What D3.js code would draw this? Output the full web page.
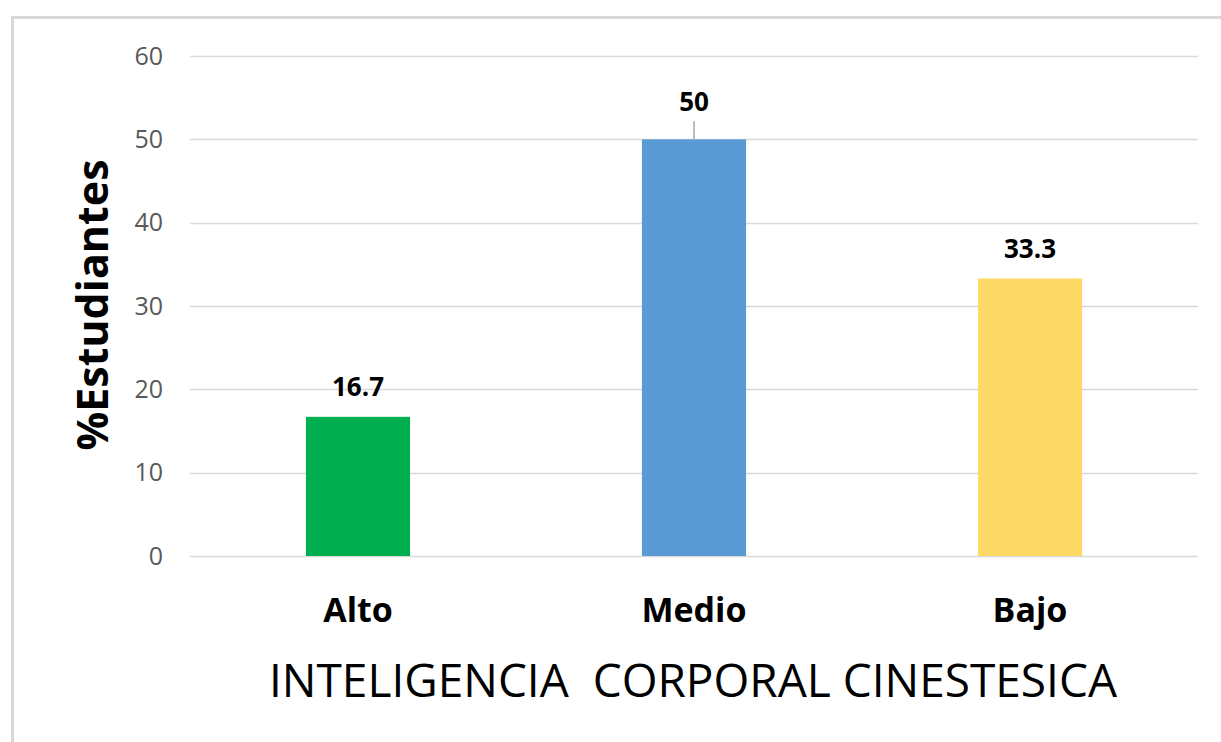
<!DOCTYPE html>
<html>
<head>
<meta charset="utf-8">
<script src="https://cdn.jsdelivr.net/npm/d3@7"></script>
<style>
  body { margin: 0; background: #fff; }
  text { font-family: "Open Sans", "Noto Sans", sans-serif; }
</style>
</head>
<body>
<div id="chart"></div>
<script>
// DATA--------------------
var categories = ["Alto", "Medio", "Bajo"];
var values = [16.7, 50, 33.3];
var barColors = ["#00b050", "#5b9bd5", "#ffd966"];
var yTicks = [0, 10, 20, 30, 40, 50, 60];
var leaderLabels = ["Medio"]; // labels pulled up with a leader line

var svgWidth = 1221;
var svgHeight = 742;

var margin = { top: 56, right: 23, bottom: 186, left: 190 };
var width = svgWidth - margin.left - margin.right;
var height = svgHeight - margin.top - margin.bottom;

var svg = d3.select("#chart")
    .append("svg")
    .attr("width", svgWidth)
    .attr("height", svgHeight);

// outer frame
svg.append("path")
    .attr("d", `M12.5,${svgHeight} V17.5 H${svgWidth}`)
    .attr("fill", "none")
    .attr("stroke", "#d9d9d9")
    .attr("stroke-width", 3);

var chart = svg.append("g")
    .attr("transform", `translate(${margin.left}, ${margin.top})`);

var x = d3.scaleBand()
    .domain(categories)
    .range([0, width])
    .paddingInner(0.69)
    .paddingOuter(0.345);

var y = d3.scaleLinear()
    .domain([0, 60])
    .range([height, 0]);

// gridlines
chart.append("g")
    .selectAll("line")
    .data(yTicks)
    .enter()
    .append("line")
    .attr("x1", 0)
    .attr("x2", width)
    .attr("y1", d => Math.round(y(d)) + 0.5)
    .attr("y2", d => Math.round(y(d)) + 0.5)
    .attr("stroke", "#d9d9d9")
    .attr("stroke-width", 1.5);

// y axis labels
var leftAxis = d3.axisLeft(y).tickValues(yTicks).tickSize(0).tickPadding(27);
var yAxis = chart.append("g").call(leftAxis);
yAxis.select(".domain").remove();
yAxis.selectAll("text")
    .attr("font-family", "Open Sans, sans-serif")
    .attr("font-size", 25)
    .attr("fill", "#595959");

// bars
chart.selectAll("rect.bar")
    .data(categories)
    .enter()
    .append("rect")
    .attr("class", "bar")
    .attr("x", d => x(d))
    .attr("width", x.bandwidth())
    .attr("y", (d, i) => y(values[i]))
    .attr("height", (d, i) => height - y(values[i]))
    .attr("fill", (d, i) => barColors[i]);

// data labels
chart.selectAll("text.value")
    .data(categories)
    .enter()
    .append("text")
    .attr("class", "value")
    .attr("x", d => x(d) + x.bandwidth() / 2)
    .attr("y", (d, i) => y(values[i]) - (leaderLabels.includes(d) ? 28 : 21))
    .attr("text-anchor", "middle")
    .attr("font-size", 26)
    .attr("font-weight", "bold")
    .attr("fill", "#000")
    .text((d, i) => values[i]);

chart.selectAll("line.leader")
    .data(categories.filter(d => leaderLabels.includes(d)))
    .enter()
    .append("line")
    .attr("class", "leader")
    .attr("x1", d => x(d) + x.bandwidth() / 2)
    .attr("x2", d => x(d) + x.bandwidth() / 2)
    .attr("y1", d => y(values[categories.indexOf(d)]) - 18)
    .attr("y2", d => y(values[categories.indexOf(d)]))
    .attr("stroke", "#a6a6a6")
    .attr("stroke-width", 1.5);

// category labels
var bottomAxis = d3.axisBottom(x).tickSize(0).tickPadding(42);
var xAxis = chart.append("g")
    .attr("transform", `translate(0, ${height})`)
    .call(bottomAxis);
xAxis.select(".domain").remove();
xAxis.selectAll("text")
    .attr("font-family", "Open Sans, sans-serif")
    .attr("font-size", 34)
    .attr("font-weight", "bold")
    .attr("fill", "#000");

// axis titles
svg.append("text")
    .attr("x", 693)
    .attr("y", 697)
    .attr("text-anchor", "middle")
    .attr("font-size", 46)
    .attr("fill", "#000")
    .style("white-space", "pre")
    .text("INTELIGENCIA  CORPORAL CINESTESICA");

svg.append("text")
    .attr("transform", "translate(108, 305) rotate(-90)")
    .attr("text-anchor", "middle")
    .attr("font-size", 43)
    .attr("font-weight", "bold")
    .attr("fill", "#000")
    .text("%Estudiantes");
</script>
</body>
</html>
